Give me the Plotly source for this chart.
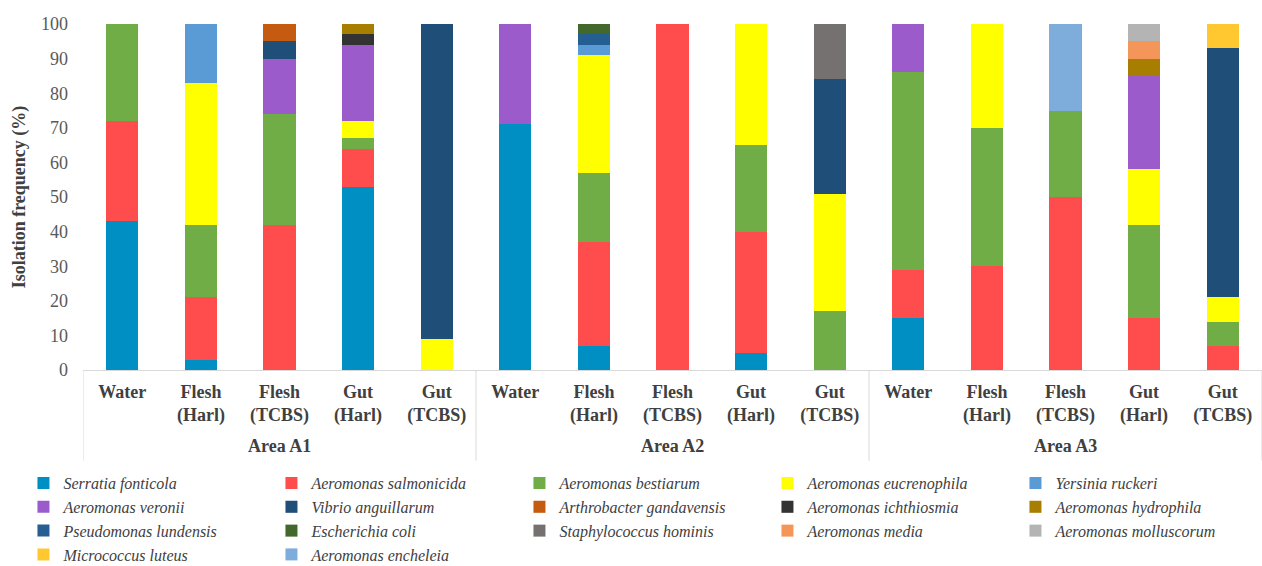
import plotly.graph_objects as go

area_names = ["Area A1", "Area A2", "Area A3"]
sample_labels = ["Water", "Flesh<br>(Harl)", "Flesh<br>(TCBS)", "Gut<br>(Harl)", "Gut<br>(TCBS)"]

species = [
    "Serratia fonticola", "Aeromonas salmonicida", "Aeromonas bestiarum",
    "Aeromonas eucrenophila", "Yersinia ruckeri", "Aeromonas veronii",
    "Vibrio anguillarum", "Arthrobacter gandavensis", "Aeromonas ichthiosmia",
    "Aeromonas hydrophila", "Pseudomonas lundensis", "Escherichia coli",
    "Staphylococcus hominis", "Aeromonas media", "Aeromonas molluscorum",
    "Micrococcus luteus", "Aeromonas encheleia",
]

serratia_fonticola      = [43, 3, 0, 53, 0,   71, 7, 0, 5, 0,     15, 0, 0, 0, 0]
aeromonas_salmonicida   = [29, 18, 42, 11, 0, 0, 30, 100, 35, 0,  14, 30, 50, 15, 7]
aeromonas_bestiarum     = [28, 21, 32, 3, 0,  0, 20, 0, 25, 17,   57, 40, 25, 27, 7]
aeromonas_eucrenophila  = [0, 41, 0, 5, 9,    0, 34, 0, 35, 34,   0, 30, 0, 16, 7]
yersinia_ruckeri        = [0, 17, 0, 0, 0,    0, 3, 0, 0, 0,      0, 0, 0, 0, 0]
aeromonas_veronii       = [0, 0, 16, 22, 0,   29, 0, 0, 0, 0,     14, 0, 0, 27, 0]
vibrio_anguillarum      = [0, 0, 5, 0, 91,    0, 0, 0, 0, 33,     0, 0, 0, 0, 72]
arthrobacter_gandavensis = [0, 0, 5, 0, 0,    0, 0, 0, 0, 0,      0, 0, 0, 0, 0]
aeromonas_ichthiosmia   = [0, 0, 0, 3, 0,     0, 0, 0, 0, 0,      0, 0, 0, 0, 0]
aeromonas_hydrophila    = [0, 0, 0, 3, 0,     0, 0, 0, 0, 0,      0, 0, 0, 5, 0]
pseudomonas_lundensis   = [0, 0, 0, 0, 0,     0, 3, 0, 0, 0,      0, 0, 0, 0, 0]
escherichia_coli        = [0, 0, 0, 0, 0,     0, 3, 0, 0, 0,      0, 0, 0, 0, 0]
staphylococcus_hominis  = [0, 0, 0, 0, 0,     0, 0, 0, 0, 16,     0, 0, 0, 0, 0]
aeromonas_media         = [0, 0, 0, 0, 0,     0, 0, 0, 0, 0,      0, 0, 0, 5, 0]
aeromonas_molluscorum   = [0, 0, 0, 0, 0,     0, 0, 0, 0, 0,      0, 0, 0, 5, 0]
micrococcus_luteus      = [0, 0, 0, 0, 0,     0, 0, 0, 0, 0,      0, 0, 0, 0, 7]
aeromonas_encheleia     = [0, 0, 0, 0, 0,     0, 0, 0, 0, 0,      0, 0, 25, 0, 0]

values = [
    serratia_fonticola, aeromonas_salmonicida, aeromonas_bestiarum,
    aeromonas_eucrenophila, yersinia_ruckeri, aeromonas_veronii,
    vibrio_anguillarum, arthrobacter_gandavensis, aeromonas_ichthiosmia,
    aeromonas_hydrophila, pseudomonas_lundensis, escherichia_coli,
    staphylococcus_hominis, aeromonas_media, aeromonas_molluscorum,
    micrococcus_luteus, aeromonas_encheleia,
]

colors = [
    "#008FC3", "#FF4D4D", "#70AD47", "#FFFF00", "#5B9BD5", "#9B5BCB",
    "#1F4E79", "#C55A11", "#333333", "#A87E00", "#255E91", "#43682B",
    "#767171", "#F4955A", "#B4B4B4", "#FFC831", "#7EADDC",
]

# unique category keys (area | sample) with display labels
x_keys = [f"{a}|{s}" for a in area_names for s in sample_labels]
x_text = [s for a in area_names for s in sample_labels]

fig = go.Figure()
for name, vals, col in zip(species, values, colors):
    fig.add_trace(go.Bar(
        x=x_keys, y=vals, name=name,
        marker=dict(color=col, line=dict(width=0)),
    ))

serif = "Times New Roman, Liberation Serif, serif"
n_per = len(sample_labels)

# area labels below sample labels, and group divider lines
for i, a in enumerate(area_names):
    fig.add_annotation(
        x=x_keys[i * n_per + n_per // 2], xref="x",
        y=-0.22, yref="paper", yanchor="middle",
        text=f"<b>{a}</b>", showarrow=False,
        font=dict(family=serif, size=18, color="#404040"),
    )
for b in range(len(area_names) + 1):
    fig.add_shape(
        type="line", xref="x", yref="paper",
        x0=b * n_per - 0.5, x1=b * n_per - 0.5, y0=0, y1=-0.262,
        line=dict(color="#D9D9D9", width=1),
    )

fig.update_layout(
    barmode="stack",
    bargap=0.59,
    width=1262, height=566,
    margin=dict(l=83, r=0, t=24, b=196, autoexpand=False),
    plot_bgcolor="white", paper_bgcolor="white",
    font=dict(family=serif, size=16, color="#404040"),
    legend=dict(
        orientation="h", traceorder="normal",
        x=-0.0505, y=-0.2778, xanchor="left", yanchor="top",
        entrywidthmode="pixels", entrywidth=203,
        itemwidth=30,
        font=dict(family=serif, size=16, color="#404040", style="italic"),
        tracegroupgap=0,
    ),
    showlegend=True,
)
fig.update_xaxes(
    type="category",
    tickmode="array", tickvals=x_keys, ticktext=x_text,
    showline=True, linecolor="#D9D9D9", linewidth=1,
    tickfont=dict(family=serif, size=18, color="#404040", weight="bold"),
    ticklabelstandoff=5,
    showgrid=False, automargin=False,
    range=[-0.5, len(x_keys) - 0.5],
)
fig.update_yaxes(
    range=[0, 100], dtick=10,
    showgrid=False, zeroline=False, showline=False,
    tickfont=dict(family=serif, size=18, color="#595959"),
    ticklabelstandoff=14, automargin=False,
    title=dict(text="<b>Isolation frequency (%)</b>",
               font=dict(family=serif, size=18, color="#404040"), standoff=10),
)

fig.write_html("out.html")
